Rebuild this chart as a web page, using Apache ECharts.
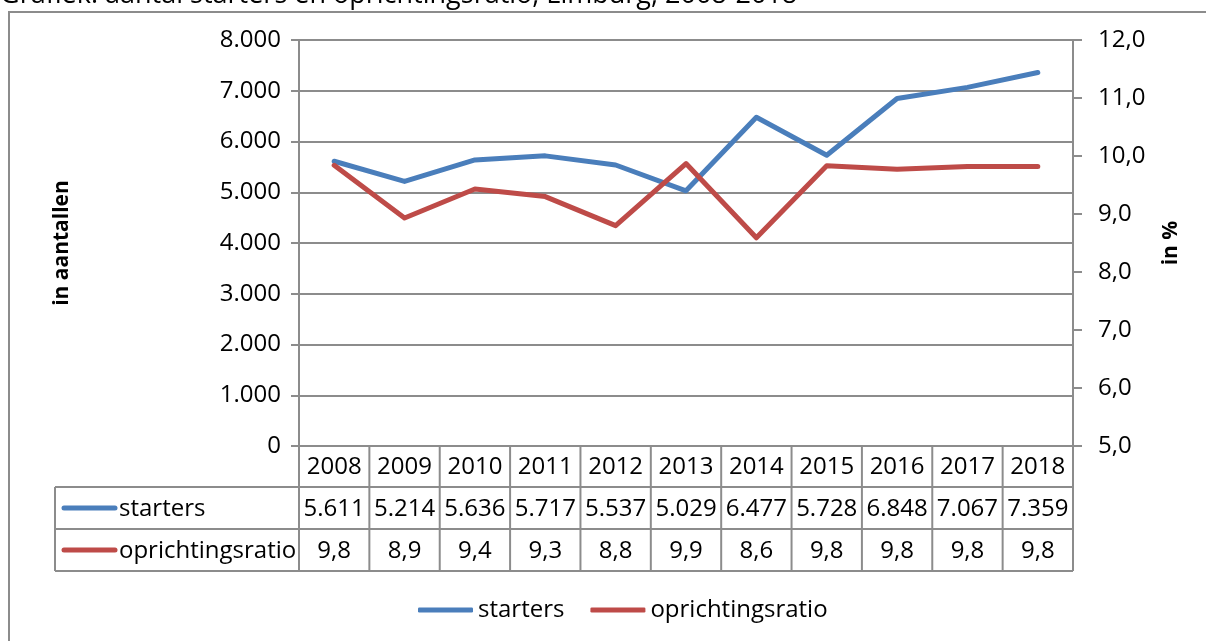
<!DOCTYPE html>
<html>
<head>
<meta charset="utf-8">
<script src="https://cdn.jsdelivr.net/npm/echarts@6/dist/echarts.min.js"></script>
<style>
  html, body { margin: 0; padding: 0; background: #fff; }
  #main { width: 1206px; height: 641px; }
</style>
</head>
<body>
<div id="main"></div>
<script>
var years = ['2008', '2009', '2010', '2011', '2012', '2013', '2014', '2015', '2016', '2017', '2018'];
var starters = [5611, 5214, 5636, 5717, 5537, 5029, 6477, 5728, 6848, 7067, 7359];
// ratio as plotted (table shows it rounded to one decimal)
var ratio = [9.84, 8.93, 9.43, 9.30, 8.80, 9.87, 8.59, 9.83, 9.77, 9.82, 9.82];
var seriesNames = ['starters', 'oprichtingsratio'];
var colors = ['#4a7ebb', '#be4b48'];

var FONT = '"Open Sans", sans-serif';
var FS = 24;
var GREY = '#8c8c8c';

function fmtThousand(v) {
    return String(v).replace(/\B(?=(\d{3})+(?!\d))/g, '.');
}
function fmtComma(v) {
    return v.toFixed(1).replace('.', ',');
}

var myChart = echarts.init(document.getElementById('main'));

var option = {
    animation: false,
    textStyle: { fontFamily: FONT },
    grid: {
        left: 299,
        right: 133,
        top: 40,
        bottom: 195
    },
    legend: {
        top: 593,
        left: 413,
        icon: 'roundRect',
        itemWidth: 55,
        itemHeight: 5,
        itemGap: 26,
        textStyle: { fontSize: FS, color: '#000', fontFamily: FONT },
        data: seriesNames
    },
    xAxis: {
        type: 'category',
        data: years,
        boundaryGap: true,
        axisLine: { lineStyle: { color: GREY, width: 2 } },
        axisTick: { show: false },
        axisLabel: { show: false }
    },
    yAxis: [{
        type: 'value',
        min: 0,
        max: 8000,
        interval: 1000,
        name: 'in aantallen',
        nameLocation: 'middle',
        nameGap: 226,
        nameTextStyle: { fontSize: 21, fontWeight: 'bold', color: '#000', fontFamily: FONT },
        axisLine: { show: true, lineStyle: { color: GREY, width: 2 } },
        axisTick: { show: true, length: 8, lineStyle: { color: GREY, width: 2 } },
        axisLabel: {
            margin: 18,
            fontSize: FS,
            color: '#000',
            formatter: function (v) { return fmtThousand(v); }
        },
        splitLine: { show: true, lineStyle: { color: GREY, width: 2 } }
    }, {
        type: 'value',
        min: 5,
        max: 12,
        interval: 1,
        name: 'in %',
        nameLocation: 'middle',
        nameGap: 88,
        nameRotate: 90,
        nameTextStyle: { fontSize: 21, fontWeight: 'bold', color: '#000', fontFamily: FONT },
        axisLine: { show: true, lineStyle: { color: GREY, width: 2 } },
        axisTick: { show: true, length: 9, lineStyle: { color: GREY, width: 2 } },
        axisLabel: {
            margin: 25,
            fontSize: FS,
            color: '#000',
            formatter: function (v) { return fmtComma(v); }
        },
        splitLine: { show: false }
    }],
    series: [{
        name: seriesNames[0],
        type: 'line',
        yAxisIndex: 0,
        data: starters,
        showSymbol: false,
        symbol: 'none',
        lineStyle: { color: colors[0], width: 5, cap: 'round', join: 'round' },
        itemStyle: { color: colors[0] }
    }, {
        name: seriesNames[1],
        type: 'line',
        yAxisIndex: 1,
        data: ratio,
        showSymbol: false,
        symbol: 'none',
        lineStyle: { color: colors[1], width: 5, cap: 'round', join: 'round' },
        itemStyle: { color: colors[1] }
    }]
};
myChart.setOption(option, true);

// data table under the plot, positioned from the category axis
function drawTable() {
    var g = [];
    var x0 = myChart.convertToPixel({ xAxisIndex: 0 }, 0);
    var x1 = myChart.convertToPixel({ xAxisIndex: 0 }, 1);
    var step = x1 - x0;
    var left = x0 - step / 2;
    var right = left + step * years.length;
    var top = myChart.convertToPixel({ yAxisIndex: 0 }, 0);
    var rows = [top, top + 41, top + 83, top + 125];
    var tableLeft = 55;

    var line = function (xa, ya, xb, yb) {
        g.push({
            type: 'line',
            shape: { x1: xa, y1: ya, x2: xb, y2: yb },
            style: { stroke: GREY, lineWidth: 2 },
            silent: true
        });
    };
    var text = function (str, x, y, align) {
        g.push({
            type: 'text',
            x: x, y: y,
            style: {
                text: str, fontSize: FS, fontFamily: FONT, fill: '#000',
                align: align || 'center', verticalAlign: 'middle'
            },
            silent: true
        });
    };

    for (var k = 0; k <= years.length; k++) {
        line(left + k * step, rows[0], left + k * step, rows[3]);
    }
    line(left, rows[0], right, rows[0]);
    for (var r = 1; r <= 3; r++) {
        line(tableLeft, rows[r], right, rows[r]);
    }
    line(tableLeft, rows[1], tableLeft, rows[3]);

    for (var i = 0; i < years.length; i++) {
        var cx = myChart.convertToPixel({ xAxisIndex: 0 }, i);
        text(years[i], cx, (rows[0] + rows[1]) / 2 + 1);
        text(fmtThousand(starters[i]), cx, (rows[1] + rows[2]) / 2 + 1);
        text(fmtComma(ratio[i]), cx, (rows[2] + rows[3]) / 2 + 1);
    }

    for (var s = 0; s < seriesNames.length; s++) {
        var cy = (rows[s + 1] + rows[s + 2]) / 2;
        g.push({
            type: 'line',
            shape: { x1: 64, y1: cy, x2: 115, y2: cy },
            style: { stroke: colors[s], lineWidth: 5, lineCap: 'round' },
            silent: true
        });
        text(seriesNames[s], 119, cy + 1, 'left');
    }

    // outer frame and (cropped) title
    g.push({
        type: 'rect',
        shape: { x: 9, y: 12, width: 1400, height: 800 },
        style: { fill: null, stroke: GREY, lineWidth: 2 },
        silent: true,
        z: -1
    });
    g.push({
        type: 'text',
        x: 0, y: -5,
        style: {
            text: 'Grafiek: aantal starters en oprichtingsratio, Limburg, 2008-2018',
            fontSize: 27, fontFamily: FONT, fill: '#000',
            align: 'left', verticalAlign: 'middle'
        },
        silent: true
    });

    myChart.setOption({ graphic: g });
}
drawTable();
</script>
</body>
</html>
